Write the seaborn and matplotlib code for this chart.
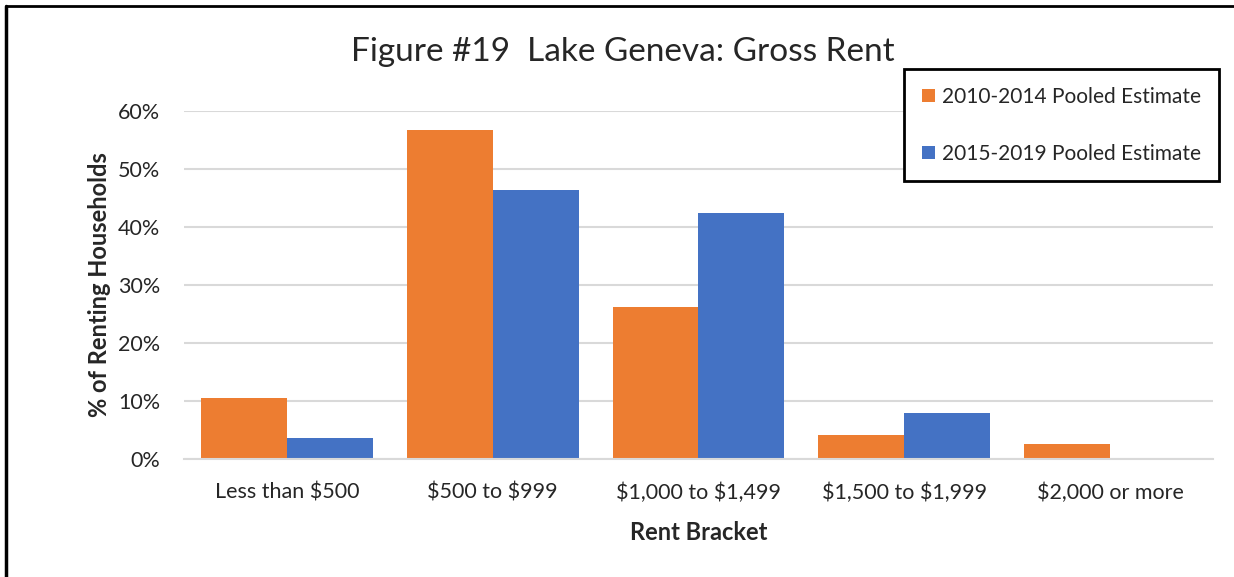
import pandas as pd
import seaborn as sns
import matplotlib.pyplot as plt
from matplotlib.lines import Line2D
from matplotlib.ticker import PercentFormatter

brackets = ["Less than $500", "$500 to $999", "$1,000 to $1,499", "$1,500 to $1,999", "$2,000 or more"]
series_names = ["2010-2014 Pooled Estimate", "2015-2019 Pooled Estimate"]
est_2010_2014 = [0.105, 0.567, 0.262, 0.041, 0.026]
est_2015_2019 = [0.036, 0.464, 0.424, 0.079, 0.0]
colors = ["#ED7D31", "#4472C4"]

df = pd.DataFrame({
    "Bracket": brackets * 2,
    "Series": [series_names[0]] * 5 + [series_names[1]] * 5,
    "Share": est_2010_2014 + est_2015_2019,
})

sns.set_style("white")
plt.rcParams["font.family"] = ["Lato", "DejaVu Sans"]
plt.rcParams["text.parse_math"] = False

fig = plt.figure(figsize=(12.34, 5.77), dpi=100)
ax = fig.add_axes([0.149, 0.2045, 0.834, 0.603])

sns.barplot(data=df, x="Bracket", y="Share", hue="Series", palette=colors,
            width=0.835, saturation=1, ax=ax, edgecolor="none")

ax.set_ylim(0, 0.6)
ax.set_yticks([0, 0.1, 0.2, 0.3, 0.4, 0.5, 0.6])
ax.yaxis.set_major_formatter(PercentFormatter(1.0, decimals=0))
ax.yaxis.grid(True, color="#D9D9D9", linewidth=1.5)
ax.set_axisbelow(True)
for s in ["top", "right", "left"]:
    ax.spines[s].set_visible(False)
ax.spines["bottom"].set_color("#D9D9D9")
ax.spines["bottom"].set_linewidth(1.5)
ax.tick_params(axis="both", length=0, labelsize=15.5)
ax.tick_params(axis="y", pad=17)
ax.tick_params(axis="x", pad=17)

ax.set_xlabel("Rent Bracket", fontsize=17, fontweight="bold", labelpad=13)
ax.set_ylabel("% of Renting Households", fontsize=17, fontweight="bold", labelpad=5)

fig.text(0.505, 0.91, "Figure #19  Lake Geneva: Gross Rent", ha="center", va="center", fontsize=24)

leg = ax.legend(loc="upper right", bbox_to_anchor=(1.0055, 1.1195), fontsize=15,
                frameon=True, fancybox=False, framealpha=1, handlelength=0.6, handleheight=0.6,
                handletextpad=0.35, labelspacing=1.75, borderpad=0.85, borderaxespad=0,
                title=None)
leg.get_frame().set_edgecolor("black")
leg.get_frame().set_linewidth(2)

# chart border (left and top edges visible)
fig.add_artist(Line2D([0.0052, 0.0052], [0, 0.99], color="black", linewidth=2.5, transform=fig.transFigure))
fig.add_artist(Line2D([0.0052, 1.0], [0.99, 0.99], color="black", linewidth=2, transform=fig.transFigure))

plt.savefig("out.png", dpi=100)
plt.close()
